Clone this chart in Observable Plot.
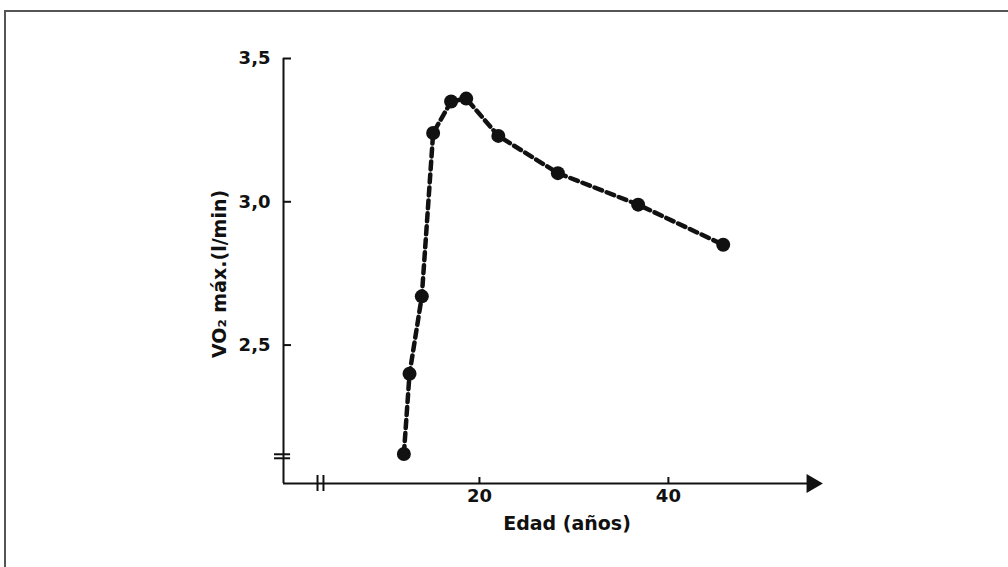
<!DOCTYPE html>
<html>
<head>
<meta charset="utf-8">
<script src="https://cdn.jsdelivr.net/npm/d3@7"></script>
<script src="https://cdn.jsdelivr.net/npm/@observablehq/plot@0.6"></script>
<style>
  html, body { margin: 0; padding: 0; background: #fff; }
  #wrap { position: relative; width: 1008px; height: 567px; overflow: hidden; }
  #border { position: absolute; left: 4px; top: 10px; width: 1100px; height: 700px;
            border-top: 2px solid #555; border-left: 2px solid #555; }
  #chart { position: absolute; left: 0; top: 0; }
</style>
</head>
<body>
<div id="wrap"><div id="border"></div><div id="chart"></div></div>
<script>
// Data
const ages = [12.0, 12.6, 13.9, 15.1, 17.0, 18.6, 22.0, 28.3, 36.8, 45.8];
const vo2  = [2.12, 2.40, 2.67, 3.24, 3.35, 3.36, 3.23, 3.10, 2.99, 2.85];
const xTicks = [20, 40];
const yTicks = [2.5, 3.0, 3.5];
const xLabel = "Edad (años)";
const yLabel = "VO\u2082 máx.(l/min)";

// axis extents (broken axes)
const xMin = -0.74, xMax = 56.1, xArrow = 55.2;
const yMin = 2.017, yMax = 3.5;
const yBreaks = [2.119, 2.105];
const xBreaks = [2.86, 3.49];

const data = ages.map((a, i) => ({age: a, vo2: vo2[i]}));

const ink = "#111";
const chart = Plot.plot({
  width: 1008,
  height: 567,
  marginLeft: 283,
  marginRight: 188,
  marginTop: 58,
  marginBottom: 84,
  style: {fontFamily: "DejaVu Sans", fontSize: "16px", color: ink, background: "transparent", overflow: "visible"},
  x: {domain: [xMin, xMax]},
  y: {domain: [yMin, yMax]},
  marks: [
    // axis lines
    Plot.ruleX([xMin], {y1: yMin, y2: yMax, stroke: ink, strokeWidth: 2}),
    Plot.ruleY([yMin], {x1: xMin, x2: xArrow, stroke: ink, strokeWidth: 2}),
    Plot.dot([xArrow], {x: d => d, y: yMin, symbol: "triangle", rotate: 90, r: 7, fill: ink, stroke: "none"}),
    // inward ticks
    Plot.ruleY(yTicks, {y: d => d, x1: xMin, x2: xMin + 0.85, stroke: ink, strokeWidth: 2}),
    Plot.ruleX(xTicks, {x: d => d, y1: yMin, y2: yMin + 0.021, stroke: ink, strokeWidth: 2}),
    // axis break marks
    Plot.ruleY(yBreaks, {y: d => d, x1: xMin - 0.95, x2: xMin + 0.75, stroke: ink, strokeWidth: 2}),
    Plot.ruleX(xBreaks, {x: d => d, y1: yMin - 0.028, y2: yMin + 0.028, stroke: ink, strokeWidth: 2}),
    // tick labels
    Plot.axisY(yTicks, {tickSize: 0, tickPadding: 13, label: null,
      tickFormat: d => d.toFixed(1).replace(".", ","), fontSize: 18, fontWeight: 600}),
    Plot.axisX(xTicks, {tickSize: 0, tickPadding: 6, label: null, fontSize: 18, fontWeight: 600}),
    // axis titles
    Plot.text([xLabel], {text: d => d, frameAnchor: "bottom", dy: 46, dx: 15, fontSize: 19, fontWeight: 600, fill: ink}),
    Plot.text([yLabel], {text: d => d, frameAnchor: "left", textAnchor: "middle", rotate: -90, dx: -64, dy: 3, fontSize: 19, fontWeight: 600, fill: ink}),
    // data
    Plot.line(data, {x: "age", y: "vo2", stroke: ink, strokeWidth: 4.5, strokeDasharray: "8,5"}),
    Plot.dot(data, {x: "age", y: "vo2", r: 7, fill: ink, stroke: "none"})
  ]
});
document.getElementById("chart").appendChild(chart);
</script>
</body>
</html>
